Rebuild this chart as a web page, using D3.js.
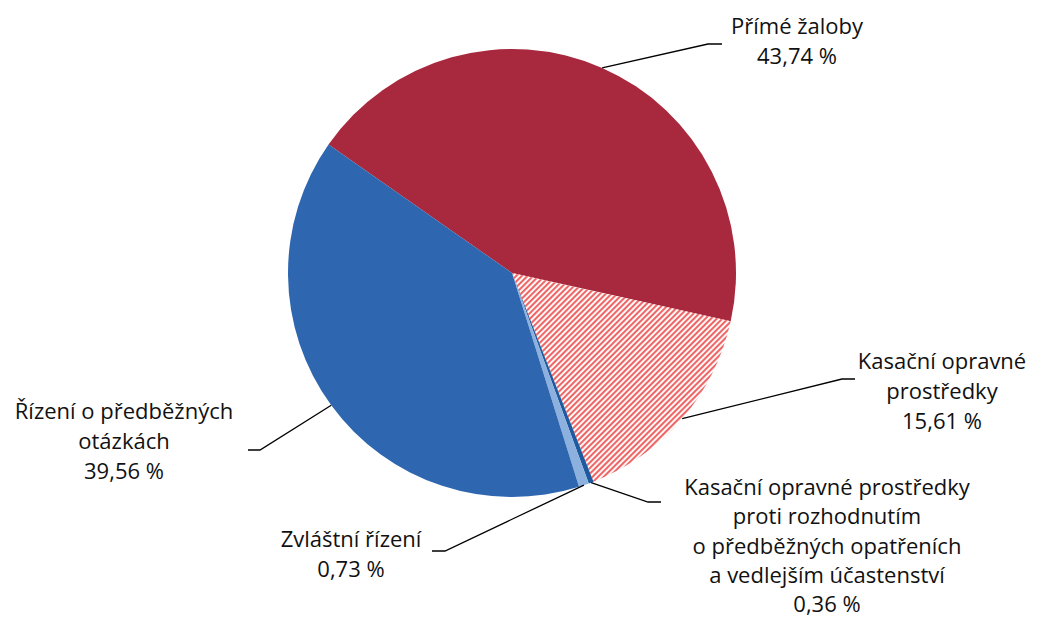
<!DOCTYPE html>
<html>
<head>
<meta charset="utf-8">
<script src="https://cdn.jsdelivr.net/npm/d3@7"></script>
<style>
  html, body { margin: 0; padding: 0; background: #fff; }
  svg text { font-family: "Open Sans", "Noto Sans", sans-serif; fill: #111; }
</style>
</head>
<body>
<svg id="chart" width="1054" height="621"></svg>
<script>
// ---- data ----
const categories = [
  "Přímé žaloby",
  "Kasační opravné prostředky",
  "Kasační opravné prostředky proti rozhodnutím o předběžných opatřeních a vedlejším účastenství",
  "Zvláštní řízení",
  "Řízení o předběžných otázkách"
];
const values = [43.74, 15.61, 0.36, 0.73, 39.56];
const valueLabels = ["43,74 %", "15,61 %", "0,36 %", "0,73 %", "39,56 %"];
const labelLines = [
  ["Přímé žaloby"],
  ["Kasační opravné", "prostředky"],
  ["Kasační opravné prostředky", "proti rozhodnutím", "o předběžných opatřeních", "a vedlejším účastenství"],
  ["Zvláštní řízení"],
  ["Řízení o předběžných", "otázkách"]
];

// ---- layout / style ----
const W = 1054, H = 621;
const cx = 512, cy = 273, R = 224;
const startDeg = -55;
const fills = ["#A8293E", "url(#hatch)", "#1E5AA0", "#8DB1DE", "#2E66B0"];
// leader elbow / end points and label anchors
const layout = [
  { elbow: [708, 44],  end: [722, 44],  tx: 797, ty: 34,  lh: 30 },
  { elbow: [842, 379], end: [855, 379], tx: 942, ty: 369, lh: 30 },
  { elbow: [648, 502], end: [661, 502], tx: 827, ty: 495, lh: 29.3 },
  { elbow: [445, 551], end: [432, 551], tx: 351, ty: 547, lh: 30 },
  { elbow: [260, 450], end: [248, 450], tx: 124, ty: 419, lh: 30 }
];
const fontSize = 22;

const svg = d3.select("#chart");
const defs = svg.append("defs");
const pat = defs.append("pattern")
  .attr("id", "hatch")
  .attr("patternUnits", "userSpaceOnUse")
  .attr("width", 4).attr("height", 4)
  .attr("patternTransform", "rotate(45)");
pat.append("rect").attr("width", 4).attr("height", 4).attr("fill", "#ffffff");
pat.append("rect").attr("width", 2.1).attr("height", 4).attr("fill", "#EE6666");

const data = categories.map((c, i) => ({ cat: c, value: values[i], i }));
const a0 = startDeg * Math.PI / 180;
const pie = d3.pie().sort(null).value(d => d.value)
  .startAngle(a0).endAngle(a0 + 2 * Math.PI);
const arcs = pie(data);
const arc = d3.arc().innerRadius(0).outerRadius(R);

const g = svg.append("g").attr("transform", `translate(${cx},${cy})`);
g.selectAll("path.slice").data(arcs).enter().append("path")
  .attr("class", "slice")
  .attr("d", arc)
  .attr("fill", d => fills[d.data.i]);

// leader lines
arcs.forEach(d => {
  const m = (d.startAngle + d.endAngle) / 2;
  const sx = cx + R * Math.sin(m), sy = cy - R * Math.cos(m);
  const L = layout[d.data.i];
  svg.append("path")
    .attr("d", d3.line()([[sx, sy], L.elbow, L.end]))
    .attr("fill", "none")
    .attr("stroke", "#000")
    .attr("stroke-width", 1.3);
});

// labels
arcs.forEach(d => {
  const i = d.data.i;
  const L = layout[i];
  const lines = labelLines[i].concat([valueLabels[i]]);
  const t = svg.append("text")
    .attr("x", L.tx).attr("y", L.ty)
    .attr("text-anchor", "middle")
    .style("font-size", fontSize + "px");
  lines.forEach((s, k) => {
    t.append("tspan").attr("x", L.tx).attr("y", L.ty + k * L.lh).text(s);
  });
});
</script>
</body>
</html>
